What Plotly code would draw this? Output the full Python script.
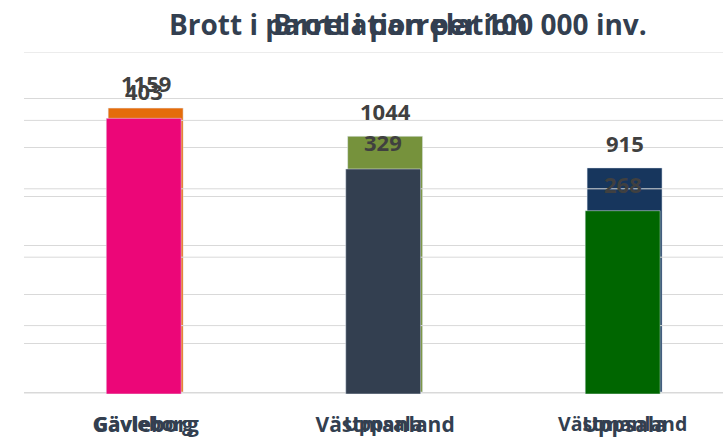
import plotly.graph_objects as go

# ---- data ----
title_a = "Brott i parrelation per 100 000 inv."
title_b = "Brott i parrelation"

regions_a = ["Gävleborg", "Västmanland", "Uppsala"]
values_a = [1159, 1044, 915]
colors_a = ["#E46C0A", "#76923C", "#17365D"]
ticks_a = [0, 200, 400, 600, 800, 1000, 1200]

regions_b = ["Gävleborg", "Uppsala", "Västmanland"]
values_b = [403, 329, 268]
colors_b = ["#EC0678", "#333F50", "#006600"]
ticks_b = [0, 100, 200, 300, 400, 500]

GRID = "#D9D9D9"
TXT = "#333F50"
LBL = "#404040"

W, H = 723, 438
ML, MR, MT, MB = 24, 0, 52, 44
plot_w = W - ML - MR
plot_h = H - MT - MB

fig = go.Figure()

# chart A bars
fig.add_trace(go.Bar(x=regions_a, y=values_a, marker_color=colors_a, width=0.313,
                     xaxis="x", yaxis="y", hoverinfo="skip"))

# chart B grid (drawn above chart A bars, below chart B bars)
gx, gy = [], []
for t in ticks_b:
    gx += [0, 1, None]
    gy += [t, t, None]
fig.add_trace(go.Scatter(x=gx, y=gy, mode="lines", line=dict(color=GRID, width=1),
                         xaxis="x2", yaxis="y2", hoverinfo="skip"))

# chart B bars
fig.add_trace(go.Bar(x=regions_b, y=values_b, marker_color=colors_b, width=0.313,
                     xaxis="x3", yaxis="y3", hoverinfo="skip"))

lbl_font = dict(family="Open Sans", size=22, color=LBL, weight=700)
annotations = []
for r, v in zip(regions_a, values_a):
    annotations.append(dict(x=r, y=v, xref="x", yref="y", text=str(v), showarrow=False,
                            yanchor="middle", yshift=25, font=lbl_font))
for r, v in zip(regions_b, values_b):
    annotations.append(dict(x=r, y=v, xref="x3", yref="y3", text=str(v), showarrow=False,
                            yanchor="middle", yshift=27, font=lbl_font))

# titles (pixel centre converted to paper coordinates)
def px_to_paper(px, py):
    return (px - ML) / plot_w, (H - py - MB) / plot_h

ttl_font = dict(family="Open Sans", size=28, color=TXT, weight=700)
tx, ty = px_to_paper(408, 24)
annotations.append(dict(text=title_a, x=tx, y=ty, xref="paper", yref="paper",
                        showarrow=False, xanchor="center", yanchor="middle", font=ttl_font))
tx, ty = px_to_paper(400, 24)
annotations.append(dict(text=title_b, x=tx, y=ty, xref="paper", yref="paper",
                        showarrow=False, xanchor="center", yanchor="middle", font=ttl_font))

fig.update_layout(
    width=W, height=H,
    margin=dict(l=ML, r=MR, t=MT, b=MB, autoexpand=False),
    paper_bgcolor="white", plot_bgcolor="rgba(0,0,0,0)",
    showlegend=False,
    annotations=annotations,
    xaxis=dict(type="category", range=[-0.508, 2.411], showgrid=False, zeroline=False,
               showline=False, ticks="", ticklabelstandoff=16, automargin=False,
               tickfont=dict(family="Open Sans", size=21, color=TXT, weight=700)),
    yaxis=dict(range=[-8, 1388], tickvals=ticks_a, showticklabels=False, showgrid=True,
               gridcolor=GRID, gridwidth=1, zeroline=False, showline=False, automargin=False),
    xaxis2=dict(overlaying="x", range=[0, 1], visible=False, automargin=False),
    yaxis2=dict(overlaying="y", range=[0, 500], visible=False, automargin=False),
    xaxis3=dict(overlaying="x", type="category", range=[-0.5, 2.419], showgrid=False,
                zeroline=False, showline=False, ticks="", ticklabelstandoff=16, anchor="y3",
                automargin=False,
                tickfont=dict(family="Open Sans", size=19.5, color=TXT, weight=700)),
    yaxis3=dict(overlaying="y", range=[0, 500], visible=False, automargin=False),
)

fig.write_html("out.html", config={"displayModeBar": False},
               post_script="document.body.style.margin='0';")
